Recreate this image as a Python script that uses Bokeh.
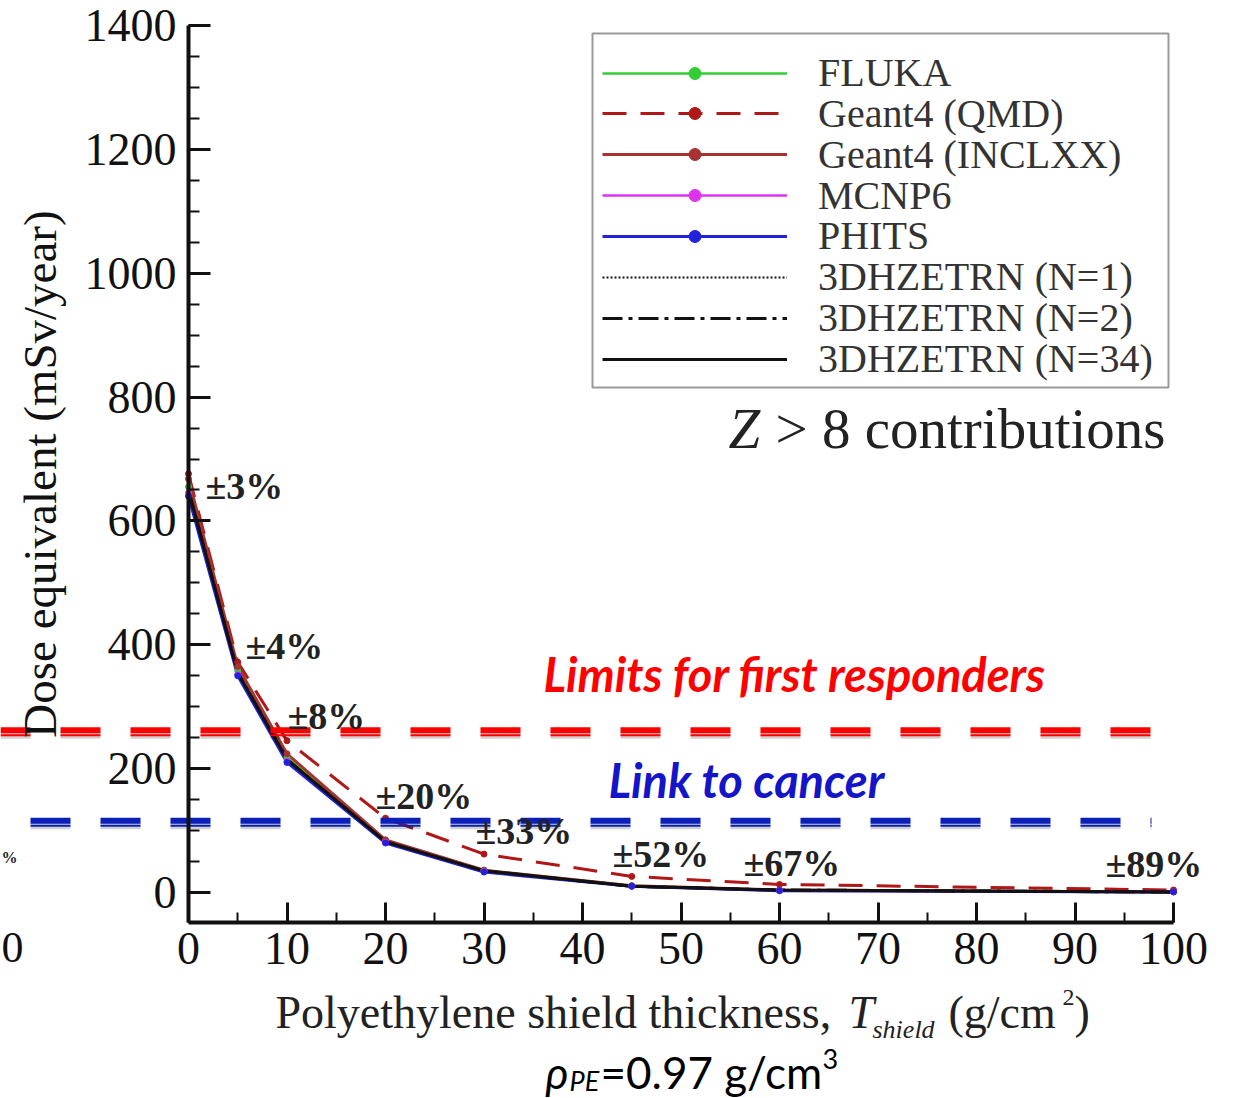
from bokeh.plotting import figure
from bokeh.models import Range1d, Legend, LegendItem, Label, FixedTicker, BoxAnnotation
from bokeh.embed import file_html
from bokeh.resources import INLINE

# ---------------- data ----------------
thickness = [0, 5, 10, 20, 30, 45, 60, 100]
fluka = [655, 358, 218, 84, 36, 11, 4, 1]
geant4_qmd = [676, 372, 245, 120, 62, 26, 13, 4]
geant4_inclxx = [668, 365, 224, 85, 36, 11, 4, 1]
mcnp6 = [645, 352, 212, 81, 34, 10, 3, 1]
phits = [640, 350, 210, 80, 33, 10, 3, 1]
hze_n1 = [648, 354, 214, 82, 35, 10, 4, 0.8]
hze_n2 = [650, 355, 215, 82, 35, 10, 4, 0.8]
hze_n34 = [650, 355, 215, 82, 35, 10, 4, 0.8]
uncertainty = ["±3%", "±4%", "±8%", "±20%", "±33%", "±52%", "±67%", "±89%"]
limit_first_responders = 262
limit_cancer = 116
y_ticks = [0, 200, 400, 600, 800, 1000, 1200, 1400]
x_ticks = [0, 10, 20, 30, 40, 50, 60, 70, 80, 90, 100]

# ---------------- layout helpers ----------------
W, H = 1236, 1098
DX = 100.0 / 985.0          # data units per pixel (x)
DY = 1400.0 / 867.0         # data units per pixel (y)
X0 = -188 * DX
X1 = X0 + W * DX
Y1 = 1400 + 25 * DY
Y0 = Y1 - H * DY
Y_AXIS_BOTTOM = -30 * DY    # x axis line lies 30 px below the zero tick


def px(xp):
    return X0 + xp * DX


def py(yp):
    return Y1 - yp * DY


SERIF = "Liberation Serif"
SANS = "Lato"

p = figure(width=W, height=H, output_backend="svg", toolbar_location=None,
           x_range=Range1d(X0, X1), y_range=Range1d(Y0, Y1),
           min_border_left=0, min_border_right=0, min_border_top=0,
           min_border_bottom=0)
p.outline_line_color = None
p.xgrid.visible = False
p.ygrid.visible = False
p.background_fill_color = "white"

# axes
for ax in (p.xaxis[0], p.yaxis[0]):
    ax.axis_line_width = 4
    ax.axis_line_color = "#111111"
    ax.major_tick_line_width = 3
    ax.major_tick_line_color = "#111111"
    ax.minor_tick_line_width = 2
    ax.minor_tick_line_color = "#111111"
    ax.major_tick_out = 0
    ax.minor_tick_out = 0
    ax.major_label_text_font = SERIF
    ax.major_label_text_font_size = "46px"
    ax.major_label_text_color = "#111111"

xa = p.xaxis[0]
xa.fixed_location = Y_AXIS_BOTTOM
xa.ticker = FixedTicker(ticks=x_ticks, minor_ticks=list(range(0, 101, 5)))
xa.bounds = (0, 100)
xa.major_tick_in = 20
xa.minor_tick_in = 10
xa.major_label_standoff = 10

ya = p.yaxis[0]
ya.fixed_location = 0
ya.ticker = FixedTicker(ticks=y_ticks, minor_ticks=list(range(0, 1401, 50)))
ya.bounds = (Y_AXIS_BOTTOM, 1400)
ya.major_tick_in = 22
ya.minor_tick_in = 11
ya.major_label_standoff = 12
ya.axis_label = "Dose equivalent (mSv/year)"
ya.axis_label_text_font = SERIF
ya.axis_label_text_font_style = "normal"
ya.axis_label_text_font_size = "47px"
ya.axis_label_text_color = "#111111"
ya.axis_label_standoff = 16

# ---------------- series ----------------
series = [
    ("FLUKA", fluka, "#33cc33", 2.5, "solid", True),
    ("Geant4 (QMD)", geant4_qmd, "#b01818", 3, "24 14", True),
    ("Geant4 (INCLXX)", geant4_inclxx, "#a83232", 3, "solid", True),
    ("MCNP6", mcnp6, "#dd33ee", 2.5, "solid", True),
    ("PHITS", phits, "#2222dd", 3, "solid", True),
    ("3DHZETRN (N=1)", hze_n1, "#111111", 2, "2 2", False),
    ("3DHZETRN (N=2)", hze_n2, "#111111", 3, "20 6 4 6", False),
    ("3DHZETRN (N=34)", hze_n34, "#111111", 3, "solid", False),
]
items = []
for name, ys, col, lw, dash, mark in series:
    r = [p.line(thickness, ys, line_color=col, line_width=lw, line_dash=dash)]
    items.append((name, r, col, mark, ys))
for name, r, col, mark, ys in items:
    if mark:
        r.append(p.scatter(thickness, ys, size=6, fill_color=col, line_color=col))

# legend frame
p.add_layout(BoxAnnotation(left=px(592), right=px(1168), top=py(33), bottom=py(387),
                           fill_color="white", fill_alpha=1.0, line_color="#999999",
                           line_width=2, line_alpha=1.0))

# one legend row per series, stacked with the reference's row pitch
ROW0, PITCH, ROW_H = 72, 40.86, 48
for i, (name, r, _, _, _) in enumerate(items):
    row_c = ROW0 + i * PITCH
    lg = Legend(items=[LegendItem(label=name, renderers=r)],
                location=(602, H - (row_c + ROW_H / 2)))
    lg.label_text_font = SERIF
    lg.label_text_font_size = "40px"
    lg.label_text_color = "#333333"
    lg.glyph_width = 185
    lg.glyph_height = 30
    lg.label_height = 30
    lg.spacing = 0
    lg.padding = 0
    lg.margin = 0
    lg.label_standoff = 31
    lg.border_line_color = None
    lg.background_fill_alpha = 0
    p.add_layout(lg, "center")

# uncertainty labels
unc_pos = [(205, 485), (245, 645), (287, 715), (375, 795), (475, 830),
           (612, 853), (743, 862), (1105, 863)]
for t, (xp_, yp_) in zip(uncertainty, unc_pos):
    p.add_layout(Label(x=px(xp_), y=py(yp_), text=t, text_font=SERIF,
                       text_font_size="38px", text_font_style="bold",
                       text_color="#222222", text_baseline="middle", text_align="left"))

# Z > 8 contributions
p.add_layout(Label(x=px(728), y=py(428), text="Z", text_font=SERIF, text_font_size="57px",
                   text_font_style="italic", text_color="#222222", text_baseline="middle"))
p.add_layout(Label(x=px(1165), y=py(428), text="> 8 contributions", text_font=SERIF,
                   text_font_size="57px", text_color="#222222", text_baseline="middle",
                   text_align="right"))

# ---------------- overlay threshold lines ----------------
x_end_px = 1151
for yv, col, off in [(limit_first_responders, "#ff0000", 10), (limit_cancer, "#0a20b8", 40)]:
    p.line([X0, px(x_end_px)], [yv - 5 * DY, yv - 5 * DY], line_color="#000000", line_alpha=0.18,
           line_width=7, line_dash="40 30", line_dash_offset=off)
    p.line([X0, px(x_end_px)], [yv, yv], line_color=col, line_width=6,
           line_dash="40 30", line_dash_offset=off)
    p.line([X0, px(x_end_px)], [yv - 5 * DY, yv - 5 * DY], line_color=col, line_width=2,
           line_dash="40 30", line_dash_offset=off)

p.add_layout(Label(x=px(543), y=py(673), text="Limits for first responders", text_font=SANS,
                   text_font_size="47px", text_font_style="bold italic", text_color="#ff0000",
                   text_baseline="middle"))
p.add_layout(Label(x=px(608), y=py(779), text="Link to cancer", text_font=SANS,
                   text_font_size="47px", text_font_style="bold italic", text_color="#1414c8",
                   text_baseline="middle"))

# ---------------- x axis label (composite) ----------------
lab_y = 1012
p.add_layout(Label(x=px(275), y=py(lab_y), text="Polyethylene shield thickness,", text_font=SERIF,
                   text_font_size="46px", text_color="#222222", text_baseline="middle"))
p.add_layout(Label(x=px(848), y=py(lab_y), text="T", text_font=SERIF, text_font_size="46px",
                   text_font_style="italic", text_color="#222222", text_baseline="middle"))
p.add_layout(Label(x=px(872), y=py(lab_y + 17), text="shield", text_font=SERIF, text_font_size="26px",
                   text_font_style="italic", text_color="#222222", text_baseline="middle"))
p.add_layout(Label(x=px(948), y=py(lab_y), text="(g/cm", text_font=SERIF, text_font_size="46px",
                   text_color="#222222", text_baseline="middle"))
p.add_layout(Label(x=px(1062), y=py(lab_y - 15), text="2", text_font=SERIF, text_font_size="24px",
                   text_color="#222222", text_baseline="middle"))
p.add_layout(Label(x=px(1074), y=py(lab_y), text=")", text_font=SERIF, text_font_size="46px",
                   text_color="#222222", text_baseline="middle"))

# rho line
rho_y = 1071
p.add_layout(Label(x=px(545), y=py(rho_y), text="ρ", text_font=SANS, text_font_size="44px",
                   text_font_style="italic", text_color="#000000", text_baseline="middle"))
p.add_layout(Label(x=px(569), y=py(rho_y + 9), text="PE", text_font=SANS, text_font_size="27px",
                   text_font_style="italic", text_color="#000000", text_baseline="middle"))
p.add_layout(Label(x=px(600), y=py(rho_y), text="=0.97 g/cm", text_font=SANS, text_font_size="44px",
                   text_color="#000000", text_baseline="middle"))
p.add_layout(Label(x=px(822), y=py(rho_y - 13), text="3", text_font=SANS, text_font_size="27px",
                   text_color="#000000", text_baseline="middle"))

# fragments of the neighbouring panel at the left edge
p.add_layout(Label(x=px(1), y=py(947), text="0", text_font=SERIF, text_font_size="44px",
                   text_color="#111111", text_baseline="middle", text_align="left"))
p.add_layout(Label(x=px(1), y=py(857), text="%", text_font=SERIF, text_font_size="16px",
                   text_font_style="bold", text_color="#222222", text_baseline="middle",
                   text_align="left"))

open("out.html", "w").write(file_html(p, INLINE))
